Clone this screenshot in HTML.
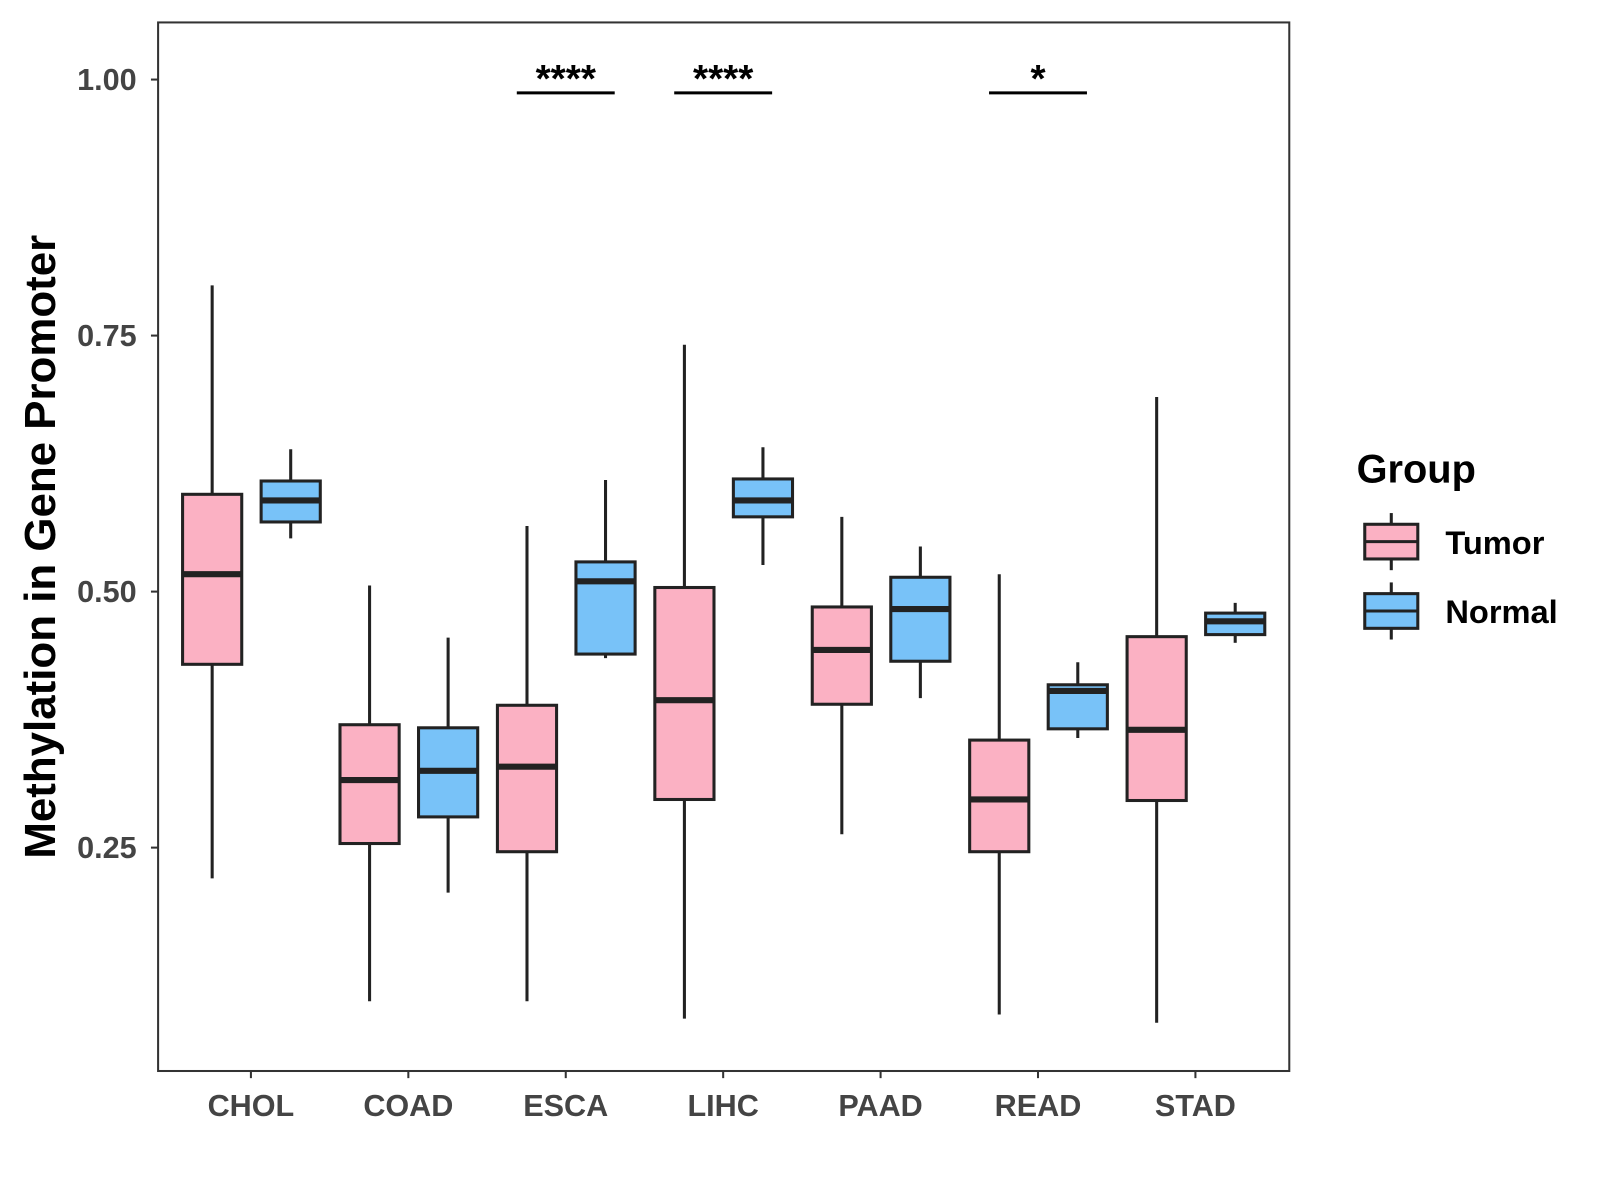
<!DOCTYPE html>
<html><head><meta charset="utf-8"><style>
body{margin:0;background:#fff}
svg{display:block;font-family:"Liberation Sans",Arial,sans-serif}
</style></head><body>
<svg id="chart" width="1600" height="1200" viewBox="0 0 1600 1200">
<g transform="scale(1.02)">
<rect x="155" y="22" width="1109" height="1028" fill="#fff" stroke="#333" stroke-width="2"/>
<g id="marks"></g>
<text transform="translate(54,536) rotate(-90)" text-anchor="middle" font-size="43" font-weight="bold" fill="#000">Methylation in Gene Promoter</text>
<g>
<text x="1330" y="473" font-size="39" font-weight="bold">Group</text>
<g>
<line x1="1364" y1="503" x2="1364" y2="559" stroke="#222" stroke-width="3"/>
<rect x="1338" y="514" width="52" height="34" fill="#FBB1C3" stroke="#222" stroke-width="3"/>
<line x1="1338" y1="531" x2="1390" y2="531" stroke="#222" stroke-width="3"/>
<text x="1417" y="543" font-size="32" font-weight="bold">Tumor</text></g>
<g>
<line x1="1364" y1="571" x2="1364" y2="627" stroke="#222" stroke-width="3"/>
<rect x="1338" y="582" width="52" height="34" fill="#78C2F8" stroke="#222" stroke-width="3"/>
<line x1="1338" y1="599" x2="1390" y2="599" stroke="#222" stroke-width="3"/>
<text x="1417" y="611" font-size="32" font-weight="bold">Normal</text></g>
</g>
</g>
</svg>
<script>
const categories=["CHOL","COAD","ESCA","LIHC","PAAD","READ","STAD"];
// [low, q1, median, q3, high]
const tumorStats=[[0.22,0.429,0.517,0.595,0.799],[0.100,0.254,0.316,0.370,0.506],[0.100,0.246,0.329,0.389,0.564],[0.083,0.297,0.394,0.504,0.741],[0.263,0.390,0.443,0.485,0.573],[0.087,0.246,0.297,0.355,0.517],[0.079,0.296,0.365,0.456,0.690]];
const normalStats=[[0.552,0.568,0.589,0.608,0.639],[0.206,0.280,0.325,0.367,0.455],[0.435,0.439,0.510,0.529,0.609],[0.526,0.573,0.589,0.610,0.641],[0.396,0.432,0.483,0.514,0.544],[0.357,0.366,0.403,0.409,0.431],[0.450,0.458,0.471,0.479,0.489]];
const yTicks=[0.25,0.50,0.75,1.00];
const yTickLabels=["0.25","0.50","0.75","1.00"];
const sigCategories=["ESCA","LIHC","READ"];
const sigLabels=["****","****","*"];
const sigLevel=0.987;

const NS="http://www.w3.org/2000/svg";
const g=document.getElementById('marks');
const y=v=>78+(1-v)*1004;
const x=i=>246+i*154.33;
function el(t,a,p){const e=document.createElementNS(NS,t);for(const k in a)e.setAttribute(k,a[k]);(p||g).appendChild(e);return e;}
yTicks.forEach((v,i)=>{
 const t=el('line',{x1:148,x2:155,y1:y(v),y2:y(v),stroke:'#333','stroke-width':2});
 
 
 const l=el('text',{x:134,y:y(v)+10,'text-anchor':'end','font-size':30,'font-weight':'bold',fill:'#444'});
 l.textContent=yTickLabels[i];
 
 
});
categories.forEach((c,i)=>{
 const t=el('line',{x1:x(i),x2:x(i),y1:1050,y2:1057,stroke:'#333','stroke-width':2});
 
 
 const l=el('text',{x:x(i),y:1094,'text-anchor':'middle','font-size':30,'font-weight':'bold',fill:'#444'});
 l.textContent=c;
 
 
 [[tumorStats[i],-38,'#FBB1C3','tumor'],[normalStats[i],39,'#78C2F8','normal']].forEach(([s,off,fill,nm])=>{
  const cx=x(i)+off,w=58;
  const bg=el('g',{});
  
  
  el('line',{x1:cx,x2:cx,y1:y(s[0]),y2:y(s[4]),stroke:'#222','stroke-width':3},bg);
  el('rect',{x:cx-w/2,y:y(s[3]),width:w,height:y(s[1])-y(s[3]),fill:fill,stroke:'#222','stroke-width':3},bg);
  el('line',{x1:cx-w/2,x2:cx+w/2,y1:y(s[2]),y2:y(s[2]),stroke:'#222','stroke-width':6},bg);
 });
});
sigCategories.forEach((c,k)=>{
 const i=categories.indexOf(c);
 const b=el('line',{x1:x(i)-48,x2:x(i)+48,y1:y(sigLevel),y2:y(sigLevel),stroke:'#000','stroke-width':3});
 
 
 const t=el('text',{x:x(i),y:y(sigLevel)-1,'text-anchor':'middle','font-size':38,'font-weight':'bold'});
 t.textContent=sigLabels[k];
 
 
});
</script>
</body></html>
